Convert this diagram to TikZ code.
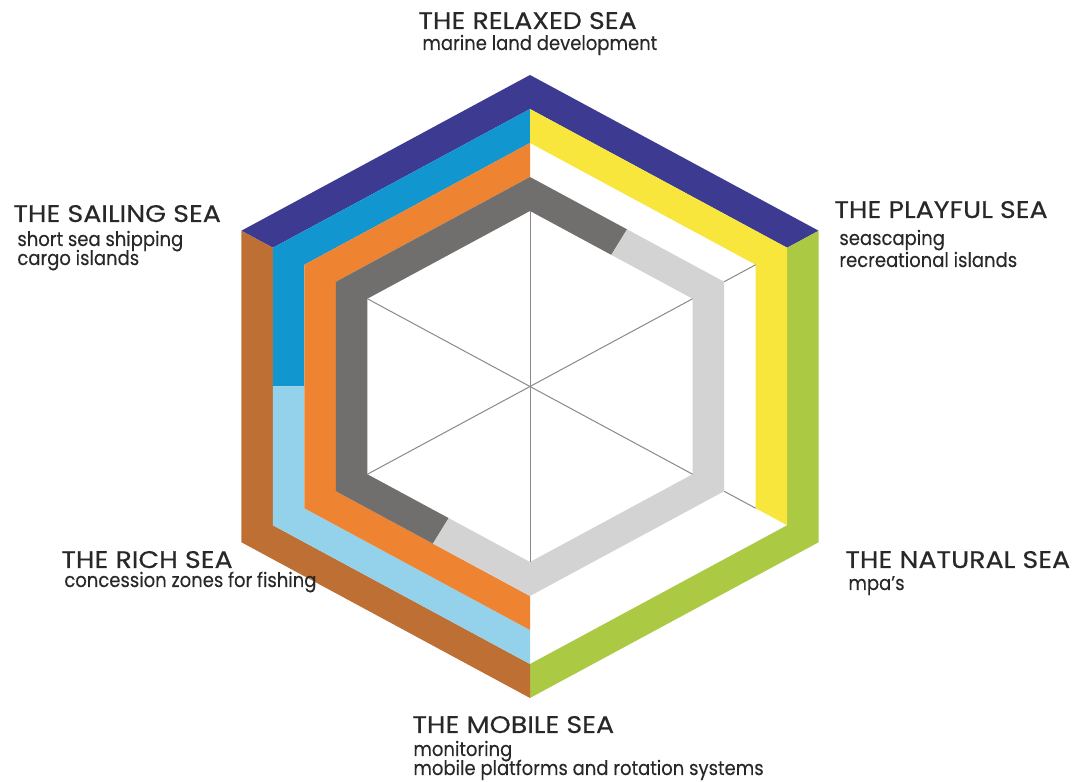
\documentclass[tikz,border=0pt]{standalone}
\usepackage{fontspec}
\setmainfont{Poppins}
\usepackage{tikz}
\usetikzlibrary{calc}
\definecolor{seaIndigo}{HTML}{3C3A91}
\definecolor{seaBlue}{HTML}{1296D0}
\definecolor{seaOrange}{HTML}{EE8331}
\definecolor{seaDarkGray}{HTML}{706F6E}
\definecolor{seaLightGray}{HTML}{D3D3D3}
\definecolor{seaYellow}{HTML}{F8E63C}
\definecolor{seaGreen}{HTML}{ACC944}
\definecolor{seaBrown}{HTML}{BE7034}
\definecolor{seaLightBlue}{HTML}{94D2EC}
\definecolor{seaSpoke}{HTML}{8C8888}
\definecolor{seaText}{HTML}{282828}
\tikzset{
  seatitle/.style={anchor=base west, inner sep=0pt, text=seaText, font=\fontsize{12}{14}\selectfont\addfontfeature{FakeStretch=1.12,FakeBold=0.4}},
  seasub/.style={anchor=base west, inner sep=0pt, text=seaText, font=\fontsize{10}{12}\selectfont\addfontfeature{FakeStretch=0.9,FakeBold=0.2}},
  spoke/.style={draw=seaSpoke, line width=0.5pt}
}

\begin{document}
\begin{tikzpicture}[x=0.5pt,y=0.5pt]
    \useasboundingbox (0,0) rectangle (1078,782);
    \pgfmathsetmacro{\Ra}{311.5};
    \pgfmathsetmacro{\Rb}{277.5};
    \pgfmathsetmacro{\Rc}{243.5};
    \pgfmathsetmacro{\Rd}{209.5};
    \pgfmathsetmacro{\Re}{175.5};
    \pgfmathsetmacro{\kc}{cos(30)};

    \begin{scope}[shift={(530,395.5)},xscale=1.07]
    \coordinate (O) at (0,0);
    % outer ring
    \fill[seaIndigo] (150:\Ra) -- (90:\Ra) -- (30:\Ra) -- (30:\Rb) -- (90:\Rb) -- (150:\Rb) -- cycle;
    \fill[seaGreen] (30:\Ra) -- (-30:\Ra) -- (-90:\Ra) -- (-90:\Rb) -- (-30:\Rb) -- (30:\Rb) -- cycle;
    \fill[seaBrown] (-90:\Ra) -- (-150:\Ra) -- (150:\Ra) -- (150:\Rb) -- (-150:\Rb) -- (-90:\Rb) -- cycle;
    % second ring
    \fill[seaBlue] (180:{\Rb*\kc}) -- (150:\Rb) -- (90:\Rb) -- (90:\Rc) -- (150:\Rc) -- (180:{\Rc*\kc}) -- cycle;
    \fill[seaYellow] (90:\Rb) -- (30:\Rb) -- (-30:\Rb) -- (-30:\Rc) -- (30:\Rc) -- (90:\Rc) -- cycle;
    \fill[seaLightBlue] (-90:\Rb) -- (-150:\Rb) -- (180:{\Rb*\kc}) -- (180:{\Rc*\kc}) -- (-150:\Rc) -- (-90:\Rc) -- cycle;
    % third ring
    \fill[seaOrange] (-90:\Rc) -- (-150:\Rc) -- (150:\Rc) -- (90:\Rc) -- (90:\Rd) -- (150:\Rd) -- (-150:\Rd) -- (-90:\Rd) -- cycle;
    % inner ring
    \fill[seaDarkGray] (60:{\Rd*\kc}) -- (90:\Rd) -- (150:\Rd) -- (210:\Rd) -- (240:{\Rd*\kc}) -- (240:{\Re*\kc}) -- (210:\Re) -- (150:\Re) -- (90:\Re) -- (60:{\Re*\kc}) -- cycle;
    \fill[seaLightGray] (240:{\Rd*\kc}) -- (270:\Rd) -- (330:\Rd) -- (390:\Rd) -- (420:{\Rd*\kc}) -- (420:{\Re*\kc}) -- (390:\Re) -- (330:\Re) -- (270:\Re) -- (240:{\Re*\kc}) -- cycle;

    \foreach \a in {30,90,...,330}
        \draw[spoke] (O) -- (\a:\Re);
    \draw[spoke] (30:\Rd) -- (30:\Rc);
    \draw[spoke] (-30:\Rd) -- (-30:\Rc);
    \end{scope}

    \node[seatitle] (relaxed) at (418,753) {THE RELAXED SEA};
    \node[seasub] (relaxedA) at (422,732) {marine land development};

    \node[seatitle] (sailing) at (13,560) {THE SAILING SEA};
    \node[seasub] (sailingA) at (17,536) {short sea shipping};
    \node[seasub] (sailingB) at (17,517) {cargo islands};

    \node[seatitle] (playful) at (834,564) {THE PLAYFUL SEA};
    \node[seasub] (playfulA) at (839,537) {seascaping};
    \node[seasub] (playfulB) at (839,515) {recreational islands};

    \node[seatitle] (rich) at (61,214) {THE RICH SEA};
    \node[seasub] (richA) at (64,195) {concession zones for fishing};

    \node[seatitle] (natural) at (845,214) {THE NATURAL SEA};
    \node[seasub] (naturalA) at (848,192) {mpa’s};

    \node[seatitle] (mobile) at (412,49) {THE MOBILE SEA};
    \node[seasub] (mobileA) at (413,26) {monitoring};
    \node[seasub] (mobileB) at (413,7) {mobile platforms and rotation systems};
\end{tikzpicture}
\end{document}
